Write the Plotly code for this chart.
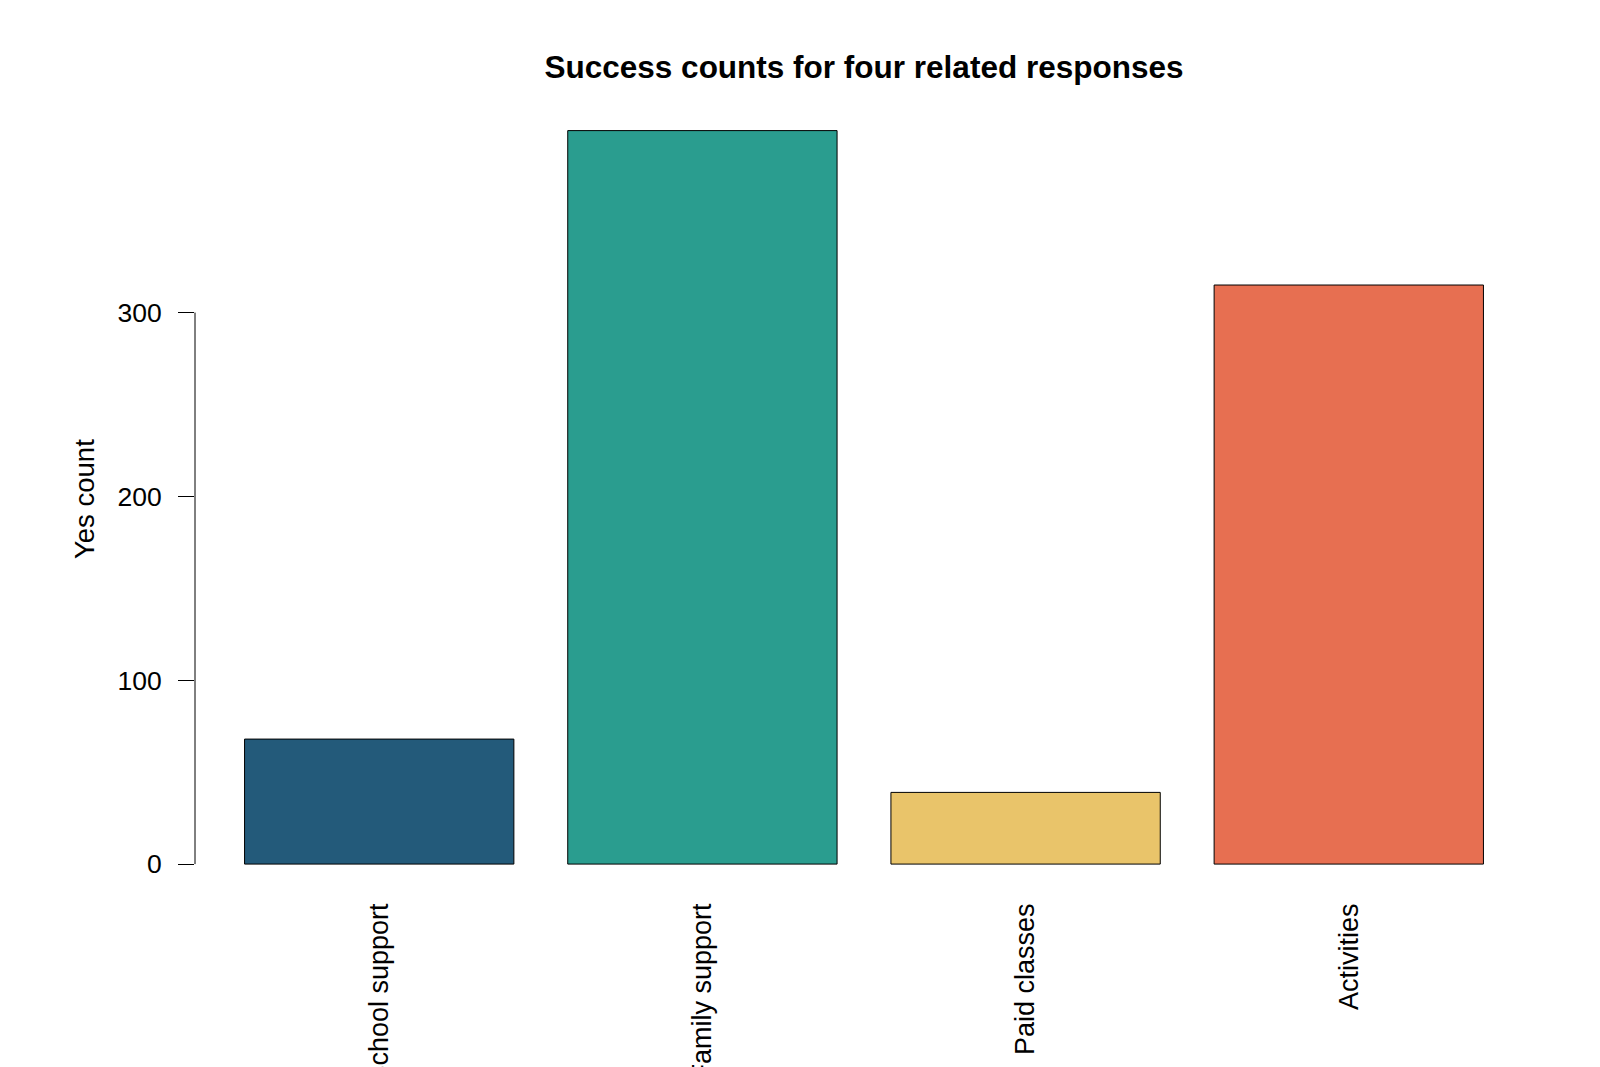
import plotly.graph_objects as go

categories = ["School support", "Family support", "Paid classes", "Activities"]
yes_counts = [68, 399, 39, 315]
bar_colors = ["#235a7a", "#2a9d8f", "#e9c46a", "#e76f51"]
y_ticks = [0, 100, 200, 300]
y_tick_labels = ["0", "100", "200", "300"]

# R barplot geometry: width 1, space 0.2
centers = [0.7 + 1.2 * i for i in range(len(categories))]

W, H = 1600, 1067
ml, mr, mt, mb = 195, 67, 101, 170
FONT = "Liberation Sans, Arial, sans-serif"

fig = go.Figure(
    go.Bar(
        x=centers,
        y=yes_counts,
        width=1.0,
        marker=dict(color=bar_colors, line=dict(color="black", width=1)),
        hoverinfo="x+y",
    )
)

fig.update_layout(
    width=W,
    height=H,
    margin=dict(l=ml, r=mr, t=mt, b=mb, pad=0),
    paper_bgcolor="white",
    plot_bgcolor="white",
    showlegend=False,
    font=dict(family=FONT, size=26, color="black"),
    title=dict(
        text="<b>Success counts for four related responses</b>",
        x=0.5,
        xref="paper",
        xanchor="center",
        y=1 - 67 / H,
        yref="container",
        yanchor="middle",
        font=dict(family=FONT, size=31.5, color="black"),
    ),
    xaxis=dict(
        range=[0.016, 4.984],
        tickmode="array",
        tickvals=centers,
        ticktext=categories,
        tickangle=-90,
        ticks="",
        showgrid=False,
        zeroline=False,
        showline=False,
        automargin=False,
        tickfont=dict(family=FONT, size=27, color="black"),
    ),
    yaxis=dict(
        range=[-17.9, 415.1],
        tickmode="array",
        tickvals=y_ticks,
        ticktext=y_tick_labels,
        ticks="outside",
        ticklen=16,
        tickwidth=1,
        tickcolor="black",
        ticklabelstandoff=11,
        showgrid=False,
        zeroline=False,
        showline=False,
        automargin=False,
        tickfont=dict(family=FONT, size=26.5, color="black"),
    ),
)

# y axis line spanning only the tick range (as R's axis())
fig.add_shape(
    type="line",
    xref="paper",
    yref="y",
    x0=0,
    x1=0,
    y0=y_ticks[0],
    y1=y_ticks[-1],
    line=dict(color="black", width=1),
)

fig.add_annotation(
    text="Yes count",
    xref="paper",
    yref="paper",
    x=(84 - ml) / (W - ml - mr),
    y=0.5,
    xanchor="center",
    yanchor="middle",
    textangle=-90,
    showarrow=False,
    font=dict(family=FONT, size=27.5, color="black"),
)

fig.write_html("out.html")
